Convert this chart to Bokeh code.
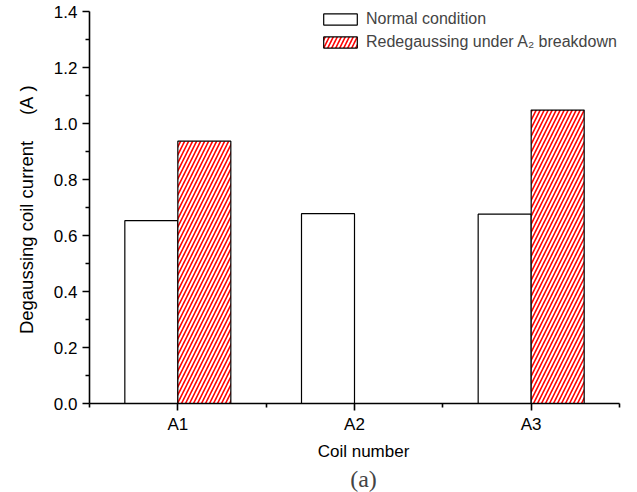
from bokeh.plotting import figure
from bokeh.models import (ColumnDataSource, FixedTicker, Legend, LegendItem,
                          Range1d, Title)
from bokeh.transform import dodge
from bokeh.embed import file_html
from bokeh.resources import INLINE

# Degaussing coil currents (A) per coil
coils = ["A1", "A2", "A3"]
normal_current = [0.653, 0.678, 0.676]
redegauss_current = [0.937, None, 1.048]   # A2 is out of service
y_ticks = [0.0, 0.2, 0.4, 0.6, 0.8, 1.0, 1.2, 1.4]

positions = list(range(1, len(coils) + 1))

normal_src = ColumnDataSource(dict(x=positions, top=normal_current))
red_pairs = [(x, v) for x, v in zip(positions, redegauss_current) if v is not None]
red_src = ColumnDataSource(dict(x=[x for x, _ in red_pairs],
                                top=[v for _, v in red_pairs]))

FONT = "Liberation Sans"
NB = "\u00a0"

# The frame reaches the top and right edges so the legend is never clipped;
# the axes themselves are bounded to the data span.
x_axis_px, right_pad_px = 530, 18
y_axis_px, top_pad_px = 392, 11
x_end = 3.5 + right_pad_px * 3.0 / x_axis_px
y_end = 1.4 * (y_axis_px + top_pad_px) / y_axis_px

p = figure(width=637, height=492,
           x_range=Range1d(0.5, x_end), y_range=Range1d(0, y_end),
           output_backend="svg", toolbar_location=None,
           min_border_left=89, min_border_right=0,
           min_border_top=0, min_border_bottom=89)

p.grid.visible = False
p.outline_line_color = None
p.background_fill_color = "white"
p.border_fill_color = "white"

bar_w = 0.3
r_normal = p.vbar(x=dodge("x", -bar_w / 2), top="top", width=bar_w,
                  source=normal_src, fill_color="white",
                  line_color="black", line_width=1.2)
r_red = p.vbar(x=dodge("x", bar_w / 2), top="top", width=bar_w,
               source=red_src, fill_color="white",
               hatch_pattern="/", hatch_color="red",
               hatch_scale=8, hatch_weight=1.6,
               line_color="black", line_width=1.2)

# Axes
for ax in (p.xaxis[0], p.yaxis[0]):
    ax.axis_line_width = 1.6
    ax.major_tick_line_width = 1.6
    ax.minor_tick_line_width = 1.6
    ax.major_tick_in = 0
    ax.major_tick_out = 7
    ax.minor_tick_in = 0
    ax.minor_tick_out = 4
    ax.major_label_text_font = FONT
    ax.major_label_text_font_size = "17px"
    ax.major_label_text_color = "black"
    ax.axis_label_text_font = FONT
    ax.axis_label_text_font_style = "normal"
    ax.axis_label_text_color = "black"
    ax.major_label_standoff = 5

p.xaxis.bounds = (0.5, 3.5)
p.xaxis.ticker = FixedTicker(ticks=positions,
                             minor_ticks=[0.5, 1.5, 2.5, 3.5])
p.xaxis.major_label_overrides = {x: c for x, c in zip(positions, coils)}
p.xaxis.major_label_standoff = 4
p.xaxis.axis_label = "Coil number"
p.xaxis.axis_label_text_font_size = "17px"
p.xaxis.axis_label_standoff = 5

p.yaxis.bounds = (0, 1.4)
p.yaxis.ticker = FixedTicker(ticks=y_ticks,
                             minor_ticks=[0.1, 0.3, 0.5, 0.7, 0.9, 1.1, 1.3])
p.yaxis.major_label_overrides = {t: f"{t:.1f}" for t in y_ticks}
p.yaxis.axis_label = "Degaussing coil current" + NB * 5 + "(A" + NB + ")" + NB * 3
p.yaxis.axis_label_text_font_size = "18.5px"
p.yaxis.axis_label_standoff = 14

legend = Legend(items=[
    LegendItem(label="Normal condition", renderers=[r_normal]),
    LegendItem(label="Redegaussing under A\u2082 breakdown", renderers=[r_red]),
], location=(230, 351))
legend.glyph_width = 42
legend.glyph_height = 14
legend.label_height = 20
legend.spacing = 3
legend.padding = 0
legend.margin = 0
legend.label_standoff = 5
legend.label_text_font = FONT
legend.label_text_font_size = "16px"
legend.border_line_color = None
legend.background_fill_alpha = 0
p.add_layout(legend)

p.add_layout(Title(text="(a)", align="center", text_font="Liberation Serif",
                   text_font_size="24px", text_font_style="normal",
                   standoff=0), "below")

open("out.html", "w").write(file_html(p, INLINE))
